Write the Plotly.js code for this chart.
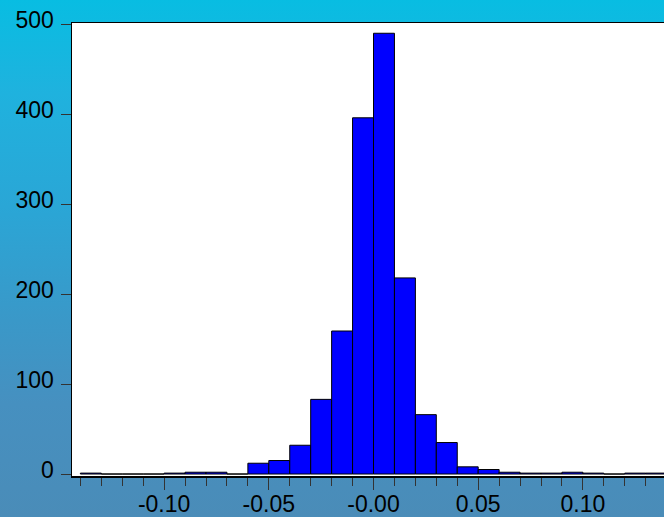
<!DOCTYPE html>
<html>
<head>
<meta charset="utf-8">
<script src="https://cdn.plot.ly/plotly-3.0.1.min.js"></script>
<style>
  html, body { margin: 0; padding: 0; width: 664px; height: 517px; overflow: hidden; }
  body {
    background: linear-gradient(to bottom, #08bde2 0%, #1fb2de 18%, #2aa6d6 40%, #3a98c8 62%, #4690c0 78%, #4a8cb8 100%);
  }
  #chart { width: 680px; height: 517px; }
</style>
</head>
<body>
<div id="chart"></div>
<script>
// Histogram bins (width 0.01) — bin centers and counts
const binCenters = [-0.135, -0.125, -0.115, -0.105, -0.095, -0.085, -0.075, -0.065, -0.055, -0.045,
                    -0.035, -0.025, -0.015, -0.005, 0.005, 0.015, 0.025, 0.035, 0.045, 0.055,
                    0.065, 0.075, 0.085, 0.095, 0.105, 0.115, 0.125, 0.135];
const counts = [1, 0, 0, 0, 1, 2, 2, 0, 12, 15,
                32, 83, 159, 396, 490, 218, 66, 35, 8, 5,
                2, 1, 1, 2, 1, 0, 1, 1];
const binWidth = 0.01;

const xTickVals = [-0.10, -0.05, 0.00, 0.05, 0.10];
const xTickText = ["-0.10", "-0.05", "-0.00", "0.05", "0.10"];
const yTickVals = [0, 100, 200, 300, 400, 500];

const font = { family: "Arial, 'Liberation Sans', sans-serif", size: 23, color: "#000000" };

const trace = {
  type: "bar",
  x: binCenters,
  y: counts,
  width: binCenters.map(() => binWidth),
  marker: { color: "#0000ff", line: { color: "#000000", width: 1 } },
  hoverinfo: "x+y"
};

const layout = {
  width: 680,
  height: 517,
  margin: { l: 72, r: 5, t: 23, b: 41, pad: 0 },
  paper_bgcolor: "rgba(0,0,0,0)",
  plot_bgcolor: "#ffffff",
  showlegend: false,
  bargap: 0,
  font: font,
  xaxis: {
    range: [-0.144, 0.144],
    tickmode: "array",
    tickvals: xTickVals,
    ticktext: xTickText,
    ticks: "outside",
    ticklen: 12,
    tickwidth: 1,
    tickcolor: "#333333",
    minor: { dtick: 0.01, tick0: 0, ticks: "outside", ticklen: 8, tickwidth: 1, tickcolor: "#333333" },
    showgrid: false,
    zeroline: false,
    showline: true,
    linecolor: "#000000",
    linewidth: 1.5,
    mirror: true,
    tickfont: font,
    ticklabelstandoff: -5
  },
  yaxis: {
    range: [-2.2, 501.4],
    tickmode: "array",
    tickvals: yTickVals,
    ticks: "outside",
    ticklen: 10,
    tickwidth: 1,
    tickcolor: "#333333",
    showgrid: false,
    zeroline: false,
    showline: true,
    linecolor: "#000000",
    linewidth: 1.5,
    mirror: true,
    tickfont: font,
    ticklabelshift: -4,
    ticklabelstandoff: 2
  }
};

Plotly.newPlot("chart", [trace], layout, { displayModeBar: false, staticPlot: true });
</script>
</body>
</html>
